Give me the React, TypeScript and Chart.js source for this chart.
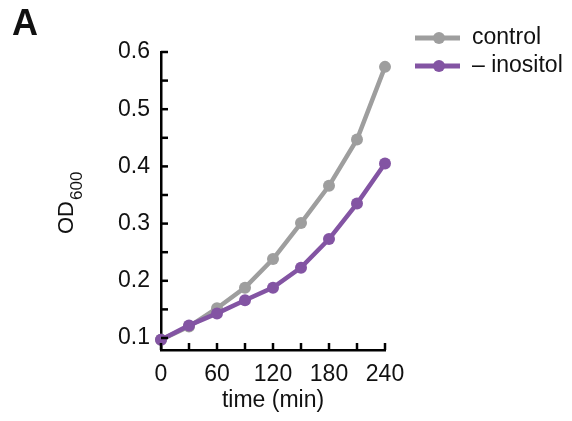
import React, { useEffect, useRef } from "react";
import { Chart, registerables } from "chart.js";

Chart.register(...registerables);

const timePoints = [0, 30, 60, 90, 120, 150, 180, 210, 240];
const controlOD = [0.097, 0.12, 0.152, 0.188, 0.238, 0.301, 0.366, 0.447, 0.574];
const inositolOD = [0.097, 0.122, 0.143, 0.166, 0.188, 0.223, 0.273, 0.335, 0.405];
const seriesNames = ["control", "\u2013 inositol"];
const seriesColors = ["#9e9e9e", "#8354a3"];
const xTickValues = [0, 30, 60, 90, 120, 150, 180, 210, 240];
const xTickLabels = ["0", "", "60", "", "120", "", "180", "", "240"];
const yTickValues = [0.1, 0.15, 0.2, 0.25, 0.3, 0.35, 0.4, 0.45, 0.5, 0.55, 0.6];
const yTickLabels = ["0.1", "", "0.2", "", "0.3", "", "0.4", "", "0.5", "", "0.6"];
const xTitle = "time (min)";
const yTitleMain = "OD";
const yTitleSub = "600";
const panelLabel = "A";

const FONT = "'Liberation Sans', Arial, Helvetica, sans-serif";

const overlayPlugin = {
  id: "overlay",
  afterDraw(chart: any) {
    const ctx = chart.ctx as CanvasRenderingContext2D;
    const xs = chart.scales.x;
    const ys = chart.scales.y;
    const area = chart.chartArea;
    ctx.save();
    // inward ticks
    ctx.strokeStyle = "#000";
    ctx.lineWidth = 2.5;
    ctx.lineCap = "butt";
    xs.ticks.forEach((t: any) => {
      const px = xs.getPixelForValue(t.value);
      ctx.beginPath();
      ctx.moveTo(px, area.bottom);
      ctx.lineTo(px, area.bottom - 7);
      ctx.stroke();
    });
    ys.ticks.forEach((t: any) => {
      const py = ys.getPixelForValue(t.value);
      ctx.beginPath();
      ctx.moveTo(area.left, py);
      ctx.lineTo(area.left + 7, py);
      ctx.stroke();
    });
    // panel label
    ctx.fillStyle = "#111";
    ctx.font = `bold 36px ${FONT}`;
    ctx.textBaseline = "alphabetic";
    ctx.textAlign = "left";
    ctx.fillText(panelLabel, 12, 35);
    // x title
    ctx.font = `23px ${FONT}`;
    ctx.textAlign = "center";
    ctx.textBaseline = "middle";
    ctx.fillText(xTitle, (area.left + area.right) / 2, 401);
    // y title rotated
    ctx.save();
    ctx.translate(73, 234);
    ctx.rotate(-Math.PI / 2);
    ctx.textAlign = "left";
    ctx.textBaseline = "alphabetic";
    ctx.font = `22px ${FONT}`;
    ctx.fillText(yTitleMain, 0, 0);
    const w = ctx.measureText(yTitleMain).width;
    ctx.font = `17px ${FONT}`;
    ctx.fillText(yTitleSub, w + 1, 8.5);
    ctx.restore();
    // legend
    const rows = [38, 66];
    seriesNames.forEach((name, i) => {
      const y = rows[i];
      ctx.strokeStyle = seriesColors[i];
      ctx.lineWidth = 5;
      ctx.beginPath();
      ctx.moveTo(415, y);
      ctx.lineTo(460, y);
      ctx.stroke();
      ctx.fillStyle = seriesColors[i];
      ctx.beginPath();
      ctx.arc(439, y, 6, 0, Math.PI * 2);
      ctx.fill();
      ctx.fillStyle = "#111";
      ctx.font = `23px ${FONT}`;
      ctx.textAlign = "left";
      ctx.textBaseline = "middle";
      ctx.fillText(name, 472, y);
    });
    ctx.restore();
  },
};

export default function App() {
  const ref = useRef<HTMLCanvasElement>(null);
  useEffect(() => {
    if (!ref.current) return;
    const chart = new Chart(ref.current, {
      type: "line",
      data: {
        datasets: [
          {
            label: seriesNames[0],
            data: timePoints.map((t, i) => ({ x: t, y: controlOD[i] })),
            borderColor: seriesColors[0],
            backgroundColor: seriesColors[0],
            borderWidth: 4.5,
            pointRadius: 6,
            pointBorderWidth: 0,
            tension: 0,
            clip: false as any,
            order: 2,
          },
          {
            label: seriesNames[1],
            data: timePoints.map((t, i) => ({ x: t, y: inositolOD[i] })),
            borderColor: seriesColors[1],
            backgroundColor: seriesColors[1],
            borderWidth: 4.5,
            pointRadius: 6,
            pointBorderWidth: 0,
            tension: 0,
            clip: false as any,
            order: 1,
          },
        ],
      },
      options: {
        responsive: false,
        animation: false,
        devicePixelRatio: 1,
        layout: { padding: { left: 0, top: 52, right: 187, bottom: 0 } },
        plugins: { legend: { display: false }, tooltip: { enabled: false } },
        scales: {
          x: {
            type: "linear",
            min: 0,
            max: 240,
            grid: { display: false, drawTicks: false },
            border: { display: true, color: "#000", width: 2.5 },
            afterBuildTicks: (s: any) => {
              s.ticks = xTickValues.map((v) => ({ value: v }));
            },
            afterFit: (s: any) => {
              s.height = 71;
            },
            ticks: {
              autoSkip: false,
              maxRotation: 0,
              padding: 11,
              color: "#111",
              font: { family: FONT, size: 23 },
              callback: (v: any) => xTickLabels[xTickValues.indexOf(Number(v))] ?? "",
            },
          },
          y: {
            type: "linear",
            min: 0.079,
            max: 0.6,
            grid: { display: false, drawTicks: false },
            border: { display: true, color: "#000", width: 2.5 },
            afterBuildTicks: (s: any) => {
              s.ticks = yTickValues.map((v) => ({ value: v }));
            },
            afterFit: (s: any) => {
              s.width = 161;
            },
            ticks: {
              autoSkip: false,
              padding: 11,
              color: "#111",
              font: { family: FONT, size: 23 },
              callback: (v: any) => {
                const idx = yTickValues.findIndex((t) => Math.abs(t - Number(v)) < 1e-9);
                return idx >= 0 ? yTickLabels[idx] : "";
              },
            },
          },
        },
      },
      plugins: [overlayPlugin],
    });
    return () => chart.destroy();
  }, []);
  return (
    <canvas
      ref={ref}
      width={572}
      height={421}
      style={{ position: "absolute", left: 0, top: 0, width: 572, height: 421, display: "block" }}
    />
  );
}
